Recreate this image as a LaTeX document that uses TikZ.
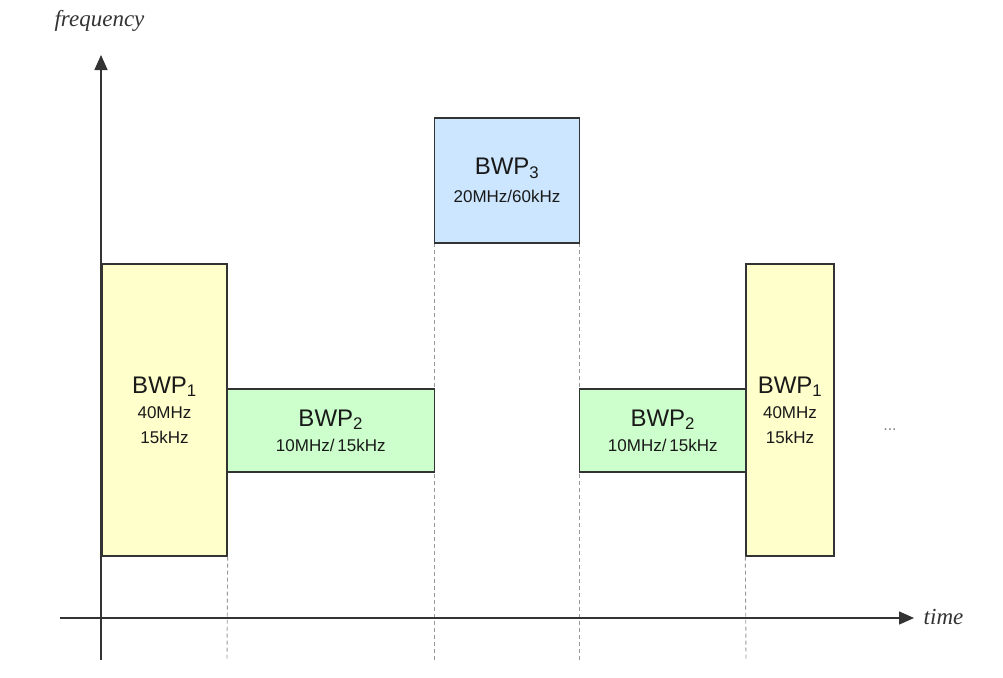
\documentclass[tikz,border=0pt]{standalone}
\usepackage{fontspec}
\setmainfont{Liberation Sans}
\newfontfamily\axisfont{Liberation Serif}
\usetikzlibrary{arrows.meta}

\definecolor{bwpyellow}{HTML}{FFFFCC}
\definecolor{bwpgreen}{HTML}{CCFFCC}
\definecolor{bwpblue}{HTML}{CCE6FF}
\definecolor{edgegray}{HTML}{333333}

\newcommand{\bwpname}[1]{{\fontsize{24}{25}\selectfont BWP\textsubscript{#1}}}

\begin{document}
\begin{tikzpicture}[x=1pt,y=-1pt,
    bwp/.style={draw=edgegray,line width=1.3pt,inner sep=0pt,align=center,
      text=black!90,font=\fontsize{17}{25}\selectfont},
    guide/.style={draw=black!40,line width=0.9pt,dash pattern=on 4pt off 3pt},
    axis/.style={draw=edgegray,line width=1.5pt,-{Triangle[length=15pt,width=13pt]}},
    axislabel/.style={text=black!80,font=\axisfont\itshape\fontsize{23}{23}\selectfont}]
  \useasboundingbox (0,0) rectangle (1003,677);
  % end points of the axes and of the guide lines
  \coordinate (f0) at (101,660);
  \coordinate (f1) at (101,55);
  \coordinate (t0) at (60,618);
  \coordinate (t1) at (914,618);
  \coordinate (g1) at (227,660);
  \coordinate (g2) at (434.5,660);
  \coordinate (g3) at (579.5,660);
  \coordinate (g4) at (746,660);
  % guide lines under the boxes
  \draw[guide] (434.5,243) -- (g2);
  \draw[guide] (579.5,243) -- (g3);
  % bandwidth parts
  \node[bwp,fill=bwpyellow,minimum width=125pt,minimum height=292pt] (bwp1a) at (164.5,410) {\bwpname{1}\\40MHz\\15kHz};
  \node[bwp,fill=bwpgreen,minimum width=207.5pt,minimum height=83pt] (bwp2a) at (330.75,430.5) {\bwpname{2}\\10MHz/\,15kHz};
  \node[bwp,fill=bwpblue,minimum width=145pt,minimum height=125pt] (bwp3) at (507,180.5) {\bwpname{3}\\[3pt]20MHz/60kHz};
  \node[bwp,fill=bwpgreen,minimum width=166.5pt,minimum height=83pt] (bwp2b) at (662.75,430.5) {\bwpname{2}\\10MHz/\,15kHz};
  \node[bwp,fill=bwpyellow,minimum width=88pt,minimum height=292pt] (bwp1b) at (790,410) {\bwpname{1}\\40MHz\\15kHz};
  \draw[guide] (bwp1a.south east) -- (g1);
  \draw[guide] (bwp1b.south west) -- (g4);
  % axes
  \draw[axis] (t0) -- (t1);
  \draw[axis] (f0) -- (f1);
  \node[axislabel] (freq) at (99.5,21) {frequency};
  \node[axislabel] (time) at (943.5,617) {time};
  \node[text=black!50,font=\fontsize{16}{16}\selectfont,anchor=base] (dots) at (890,430) {...};
\end{tikzpicture}
\end{document}
